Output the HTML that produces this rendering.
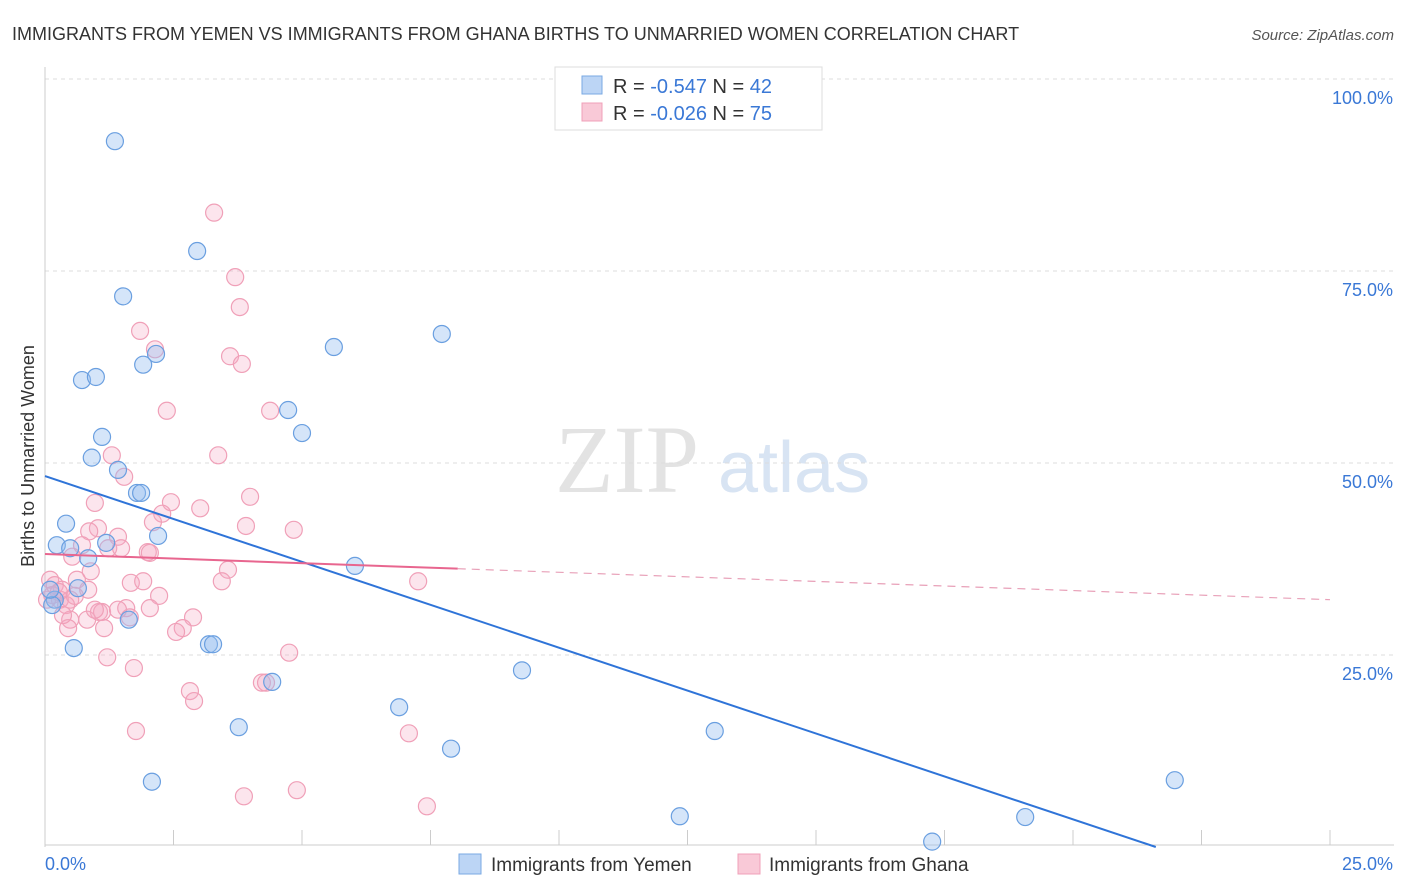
<!DOCTYPE html>
<html><head><meta charset="utf-8"><style>
body{margin:0;background:#fff;font-family:"Liberation Sans",sans-serif;}
#wrap{position:relative;width:1406px;height:892px;overflow:hidden;}
</style></head><body>
<div id="wrap">
<svg id="svg" width="1406" height="892" xmlns="http://www.w3.org/2000/svg">
<text x="12" y="40" font-size="18" fill="#333">IMMIGRANTS FROM YEMEN VS IMMIGRANTS FROM GHANA BIRTHS TO UNMARRIED WOMEN CORRELATION CHART</text>
<text x="1394" y="40" font-size="15" fill="#555" font-style="italic" text-anchor="end">Source: ZipAtlas.com</text>
<text x="555" y="492" font-size="96" fill="#e3e3e3" font-family="Liberation Serif">ZIP</text>
<text x="718" y="492" font-size="72" fill="#d8e4f3">atlas</text>
<g id="grid"></g>
<g id="axes"></g>
<g id="pts"></g>
<g id="trend"></g>
<text transform="translate(34,456) rotate(-90)" font-size="18" fill="#333" text-anchor="middle">Births to Unmarried Women</text>
<g>
<rect x="555" y="67" width="267" height="63" fill="#fff" stroke="#ddd"/>
<rect x="582" y="76" width="20" height="18" fill="#bcd5f5" stroke="#7aa9e3"/>
<rect x="582" y="103" width="20" height="18" fill="#f9c9d7" stroke="#f0a0b8"/>
<text x="613" y="93" font-size="20" fill="#333">R = <tspan fill="#3a78d6">-0.547</tspan>   N = <tspan fill="#3a78d6">42</tspan></text>
<text x="613" y="120" font-size="20" fill="#333">R = <tspan fill="#3a78d6">-0.026</tspan>   N = <tspan fill="#3a78d6">75</tspan></text>
</g>
<g>
<rect x="459" y="854" width="22" height="20" fill="#bcd5f5" stroke="#7aa9e3"/>
<text x="491" y="871" font-size="19" fill="#333">Immigrants from Yemen</text>
<rect x="738" y="854" width="22" height="20" fill="#f9c9d7" stroke="#f0a0b8"/>
<text x="769" y="871" font-size="19" fill="#333">Immigrants from Ghana</text>
</g>
</svg>
</div>
<script>
const yTicks=[25,50,75,100];
const yTickLabels=["25.0%","50.0%","75.0%","100.0%"];
const xEdgeLabels=["0.0%","25.0%"];
const blueX=[1.36,2.96,1.52,2.16,1.91,5.62,7.72,0.72,0.99,1.11,0.91,4.73,5.00,1.42,1.79,1.87,0.41,2.20,0.23,0.49,0.84,1.19,0.64,0.19,0.14,6.03,1.63,0.56,3.19,3.27,4.42,9.28,3.77,6.89,7.90,13.03,2.08,12.35,21.98,19.07,17.26,0.10];
const blueY=[91.9,77.6,71.7,64.2,62.8,65.1,66.8,60.8,61.2,53.4,50.7,56.9,53.9,49.1,46.1,46.1,42.1,40.5,39.3,38.9,37.6,39.6,33.7,32.2,31.5,36.6,29.6,25.9,26.4,26.4,21.5,23.0,15.6,18.2,12.8,15.1,8.5,4.0,8.7,3.9,0.7,33.5];
const pinkX=[3.29,3.70,3.79,1.85,2.14,3.60,3.83,2.37,4.38,3.37,1.30,1.54,3.99,0.97,2.45,3.02,2.28,2.10,1.03,3.91,4.84,0.86,1.42,0.72,1.23,1.48,2.00,2.04,0.53,0.89,3.56,0.62,1.67,1.91,3.44,7.26,0.10,0.19,0.33,0.29,0.49,0.41,2.22,1.05,1.11,1.58,1.42,1.65,2.88,0.82,0.49,0.45,1.15,2.68,2.55,4.75,1.21,1.73,2.82,2.90,4.22,4.30,1.77,7.08,3.87,4.90,7.43,0.14,0.04,0.27,0.58,0.84,0.35,0.97,2.04];
const pinkY=[82.6,74.2,70.3,67.2,64.8,63.9,62.9,56.8,56.8,51.0,51.0,48.2,45.6,44.8,44.9,44.1,43.4,42.3,41.5,41.8,41.3,41.1,40.4,39.3,38.9,38.9,38.4,38.3,37.8,35.9,36.1,34.8,34.4,34.6,34.6,34.6,34.8,34.1,33.5,32.2,32.2,31.5,32.7,30.6,30.6,31.1,30.9,29.9,29.9,29.6,29.6,28.5,28.5,28.5,28.0,25.3,24.7,23.3,20.3,19.0,21.4,21.4,15.1,14.8,6.6,7.4,5.3,32.8,32.2,33.2,32.7,33.5,30.2,30.9,31.1];
const blueTrend=[48.3,-2.235];   // intercept, slope
const pinkTrend=[38.15,-0.238];
const pinkSolidEnd=8.03;

const NS="http://www.w3.org/2000/svg";
const X=v=>45+v/25*1285;
const Y=v=>847-v*7.68;
function mk(tag,attrs,parent){const e=document.createElementNS(NS,tag);for(const k in attrs)e.setAttribute(k,attrs[k]);parent.appendChild(e);return e;}
const grid=document.getElementById('grid'),axes=document.getElementById('axes'),pts=document.getElementById('pts'),trend=document.getElementById('trend');
yTicks.forEach((t,i)=>{
 const l=mk('line',{x1:45,x2:1394,y1:Y(t),y2:Y(t),stroke:'#ddd','stroke-dasharray':'4,4'},grid);
 
 
 const tx=mk('text',{x:1393,y:Y(t)+25,'font-size':18,fill:'#3a78d6','text-anchor':'end'},axes);
 tx.textContent=yTickLabels[i];
 
 
});
const al=mk('line',{x1:45,x2:45,y1:67,y2:847,stroke:'#ccc'},axes);


const bl=mk('line',{x1:45,x2:1394,y1:845,y2:845,stroke:'#ccc'},axes);


for(let i=1;i<=10;i++){
 const tk=mk('line',{x1:X(i*2.5),x2:X(i*2.5),y1:830,y2:845,stroke:'#ccc'},axes);
 
 
}
const xl0=mk('text',{x:45,y:870,'font-size':18,fill:'#3a78d6'},axes);
xl0.textContent=xEdgeLabels[0];


const xl1=mk('text',{x:1393,y:870,'font-size':18,fill:'#3a78d6','text-anchor':'end'},axes);
xl1.textContent=xEdgeLabels[1];


pinkX.forEach((x,i)=>{
 const c=mk('circle',{cx:X(x),cy:Y(pinkY[i]),r:8.5,fill:'rgba(245,170,195,0.3)',stroke:'#f0a0b8','stroke-width':1.2},pts);
 
 
});
blueX.forEach((x,i)=>{
 const c=mk('circle',{cx:X(x),cy:Y(blueY[i]),r:8.5,fill:'rgba(150,190,240,0.4)',stroke:'#6a9fe0','stroke-width':1.2},pts);
 
 
});
const bEnd=-blueTrend[0]/blueTrend[1];
const bt=mk('line',{x1:X(0),y1:Y(blueTrend[0]),x2:X(bEnd),y2:Y(0),stroke:'#2f74d8','stroke-width':2},trend);


const pt=mk('line',{x1:X(0),y1:Y(pinkTrend[0]),x2:X(pinkSolidEnd),y2:Y(pinkTrend[0]+pinkTrend[1]*pinkSolidEnd),stroke:'#e8668f','stroke-width':2},trend);


const pd=mk('line',{x1:X(pinkSolidEnd),y1:Y(pinkTrend[0]+pinkTrend[1]*pinkSolidEnd),x2:X(25),y2:Y(pinkTrend[0]+pinkTrend[1]*25),stroke:'#e8a0b8','stroke-width':1.2,'stroke-dasharray':'8,6'},trend);


</script>
</body></html>
